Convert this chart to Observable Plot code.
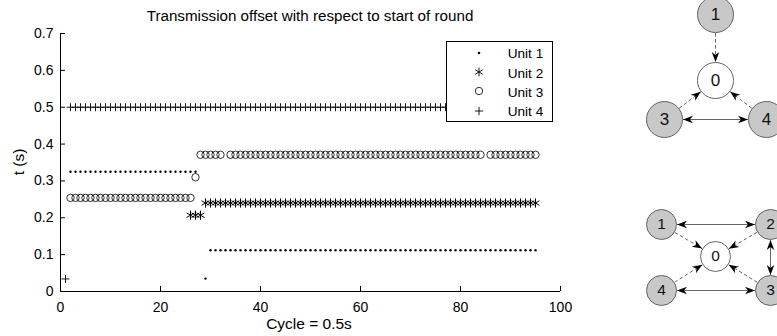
<!DOCTYPE html>
<html><head><meta charset="utf-8">
<script src="https://cdn.jsdelivr.net/npm/d3@7"></script>
<script src="https://cdn.jsdelivr.net/npm/@observablehq/plot@0.6"></script>
<style>
html,body{margin:0;padding:0;background:#fff;overflow:hidden;}
#wrap{position:relative;width:777px;height:336px;overflow:hidden;font-family:"Liberation Sans",Arial,Helvetica,sans-serif;color:#000;background:#fff;}
.lbl{position:absolute;white-space:nowrap;line-height:18px;}
#legend{position:absolute;left:446px;top:41px;width:107px;height:81px;box-sizing:border-box;border:1px solid #000;background:#fff;}
#legend .row{position:absolute;left:0;width:100%;height:16px;}
#legend svg{position:absolute;}
#legend span{position:absolute;left:60.7px;top:0;font-size:13.6px;line-height:16px;white-space:nowrap;}
</style></head><body><div id="wrap"></div>
<script>
// ---------- data ----------
const title = "Transmission offset with respect to start of round";
const xLabel = "Cycle = 0.5s";
const yLabel = "t (s)";
const xTicks = [0, 20, 40, 60, 80, 100];
const xTickLabels = ["0", "20", "40", "60", "80", "100"];
const yTicks = [0, 0.1, 0.2, 0.3, 0.4, 0.5, 0.6, 0.7];
const yTickLabels = ["0", "0.1", "0.2", "0.3", "0.4", "0.5", "0.6", "0.7"];
const units = ["Unit 1", "Unit 2", "Unit 3", "Unit 4"];
// runs of equal offsets: [first cycle, last cycle, t (s)]
const unit1Runs = [[2, 27, 0.325], [29, 29, 0.035], [30, 95, 0.112]];
const unit2Runs = [[26, 28, 0.207], [29, 95, 0.240]];
const unit3Runs = [[2, 26, 0.254], [27, 27, 0.310], [28, 32, 0.371], [34, 84, 0.371], [86, 95, 0.371]];
const unit4Runs = [[1, 1, 0.034], [2, 95, 0.5]];
// network diagrams (layout positions)
const nodesTop = [
  {id: "1", x: 715, y: 14}, {id: "0", x: 715, y: 80},
  {id: "3", x: 664, y: 119}, {id: "4", x: 766, y: 119}
];
const nodesBottom = [
  {id: "1", x: 661, y: 224}, {id: "2", x: 770, y: 224}, {id: "0", x: 715, y: 256},
  {id: "4", x: 661, y: 290}, {id: "3", x: 770, y: 290}
];
const edgesTop = [["1", "0", "in"], ["3", "0", "in"], ["4", "0", "in"], ["3", "4", "both"]];
const edgesBottom = [["1", "2", "both"], ["2", "3", "both"], ["4", "3", "both"],
  ["1", "0", "in"], ["2", "0", "in"], ["4", "0", "in"], ["3", "0", "in"]];

// ---------- build ----------
const expand = runs => runs.flatMap(([a, b, t]) => d3.range(a, b + 1).map(cycle => ({cycle, t})));
const unit1 = expand(unit1Runs), unit2 = expand(unit2Runs), unit3 = expand(unit3Runs), unit4 = expand(unit4Runs);

const wrap = document.getElementById("wrap");
const FONT = '"Liberation Sans", Arial, Helvetica, sans-serif';
const W = 600, H = 336, ML = 60, MR = 40, MT = 33, MB = 45, TICK = 5;

const chart = Plot.plot({
  width: W, height: H,
  marginLeft: ML, marginRight: MR, marginTop: MT, marginBottom: MB,
  style: {fontFamily: FONT, fontSize: "14px", background: "transparent", color: "#000", overflow: "visible"},
  x: {domain: [0, 100], label: null},
  y: {domain: [0, 0.7], label: null},
  marks: [
    Plot.ruleX([0], {stroke: "#000"}),
    Plot.ruleY([0], {stroke: "#000"}),
    // inward tick marks
    Plot.tickY(yTicks, {y: d => d, stroke: "#000", insetRight: W - ML - MR - TICK}),
    Plot.tickX(xTicks, {x: d => d, stroke: "#000", insetTop: H - MT - MB - TICK}),
    Plot.axisY({ticks: yTicks, tickSize: 0, tickPadding: 7, label: null, tickFormat: (d, i) => yTickLabels[i]}),
    Plot.axisX({ticks: xTicks, tickSize: 0, tickPadding: 11, label: null, tickFormat: (d, i) => xTickLabels[i]}),
    Plot.dot(unit3, {x: "cycle", y: "t", symbol: "circle", r: 3.7, fill: "none", stroke: "#000", strokeWidth: 0.8}),
    Plot.dot(unit2, {x: "cycle", y: "t", symbol: "asterisk", r: 4.3, stroke: "#000", strokeWidth: 1}),
    Plot.dot(unit1, {x: "cycle", y: "t", r: 1.2, fill: "#000", stroke: "none"}),
    Plot.dot(unit4, {x: "cycle", y: "t", symbol: "plus", r: 2.7, stroke: "#000", strokeWidth: 0.9})
  ]
});
chart.style.position = "absolute"; chart.style.left = "0px"; chart.style.top = "0px";
wrap.appendChild(chart);

// text labels
function addLabel(text, css) {
  const d = document.createElement("div");
  d.className = "lbl"; d.textContent = text;
  Object.assign(d.style, css);
  wrap.appendChild(d);
  return d;
}
addLabel(title, {left: "310px", top: "6.7px", fontSize: "15.2px", transform: "translateX(-50%)"});
addLabel(xLabel, {left: "309px", top: "314.6px", fontSize: "15.5px", transform: "translateX(-50%)"});
addLabel(yLabel, {left: "19px", top: "162px", fontSize: "15.5px", transform: "translate(-50%,-50%) rotate(-90deg)"});

// legend
const legend = document.createElement("div");
legend.id = "legend";
const legendSymbols = [
  {type: d3.symbolCircle, r: 1.3, fill: "#000", stroke: "none", sw: 0},
  {type: d3.symbolAsterisk, r: 4.1, fill: "none", stroke: "#000", sw: 0.9},
  {type: d3.symbolCircle, r: 3.7, fill: "none", stroke: "#000", sw: 0.8},
  {type: d3.symbolPlus, r: 2.8, fill: "none", stroke: "#000", sw: 0.9}
];
const rowTops = [4.3, 23.5, 42.7, 61.9];
units.forEach((u, i) => {
  const row = document.createElement("div");
  row.className = "row"; row.style.top = rowTops[i] + "px";
  const s = legendSymbols[i];
  const svg = d3.create("svg").attr("width", 14).attr("height", 14)
    .style("left", (32.3 - 7) + "px").style("top", (12.7 - 6 - 7) + "px");
  svg.append("path").attr("transform", "translate(7,7)")
    .attr("d", d3.symbol(s.type, Math.PI * s.r * s.r)())
    .attr("fill", s.fill).attr("stroke", s.stroke).attr("stroke-width", s.sw);
  row.appendChild(svg.node());
  const sp = document.createElement("span"); sp.textContent = u;
  row.appendChild(sp);
  legend.appendChild(row);
});
wrap.appendChild(legend);

// network diagrams
function stealth() {
  const m = d3.create("svg:marker")
    .attr("viewBox", "-11 -5 11 10").attr("markerWidth", 11).attr("markerHeight", 10)
    .attr("markerUnits", "userSpaceOnUse").attr("refX", 0).attr("refY", 0)
    .attr("orient", "auto-start-reverse");
  m.append("path").attr("d", "M0,0L-10,-3.8L-7,0L-10,3.8Z").attr("fill", "#000").attr("stroke", "none");
  return m.node();
}
function edgeGeom(nodes, edges, r) {
  const byId = new Map(nodes.map(n => [n.id, n]));
  return edges.map(([a, b, kind]) => {
    const A = byId.get(a), B = byId.get(b);
    const dx = B.x - A.x, dy = B.y - A.y, L = Math.hypot(dx, dy);
    const ux = dx / L, uy = dy / L;
    return {kind, x1: A.x + ux * (r + 0.5), y1: A.y + uy * (r + 0.5), x2: B.x - ux * (r + 0.5), y2: B.y - uy * (r + 0.5)};
  });
}
const eTop = edgeGeom(nodesTop, edgesTop, 18);
const eBot = edgeGeom(nodesBottom, edgesBottom, 15);
const allEdges = eTop.concat(eBot);
const oneWay = allEdges.filter(e => e.kind === "in");
const twoWay = allEdges.filter(e => e.kind === "both");
const nodeFill = d => d.id === "0" ? "#ffffff" : "#c8c8c8";

const diag = Plot.plot({
  width: 200, height: 350, margin: 0,
  style: {fontFamily: FONT, background: "transparent", overflow: "visible"},
  x: {domain: [600, 800], range: [0, 200], axis: null},
  y: {domain: [-10, 340], range: [0, 350], axis: null},
  color: {type: "identity"},
  marks: [
    Plot.link(oneWay, {x1: "x1", y1: "y1", x2: "x2", y2: "y2", stroke: "#555", strokeWidth: 0.9, strokeDasharray: "3.5,2.5", markerEnd: stealth}),
    Plot.link(twoWay, {x1: "x1", y1: "y1", x2: "x2", y2: "y2", stroke: "#555", strokeWidth: 0.9, markerStart: stealth, markerEnd: stealth}),
    Plot.dot(nodesTop, {x: "x", y: "y", r: 18, fill: nodeFill, stroke: "#555", strokeWidth: 0.9}),
    Plot.dot(nodesBottom, {x: "x", y: "y", r: 15, fill: nodeFill, stroke: "#555", strokeWidth: 0.9}),
    Plot.text(nodesTop, {x: "x", y: "y", text: "id", fontSize: 17, fill: "#111"}),
    Plot.text(nodesBottom, {x: "x", y: "y", text: "id", fontSize: 15.5, fill: "#111"})
  ]
});
diag.style.position = "absolute"; diag.style.left = "600px"; diag.style.top = "-10px";
wrap.appendChild(diag);
</script>
</body></html>
